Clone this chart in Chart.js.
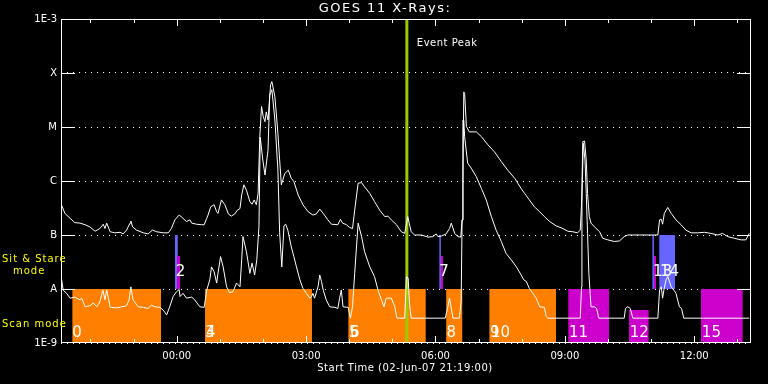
<!DOCTYPE html>
<html>
<head>
<meta charset="utf-8">
<script src="https://cdn.jsdelivr.net/npm/chart.js@4.4.0/dist/chart.umd.min.js"></script>
<style>
  body { margin: 0; background: #000; }
  #wrap { width: 768px; height: 384px; }
</style>
</head>
<body>
<div id="wrap"><canvas id="goes" width="768" height="384"></canvas></div>
<script>
// time axis: hours since 02-Jun-07 21:19:00, flux given as log10(W/m^2)
const longTime = [0.01,0.09,0.21,0.32,0.44,0.56,0.67,0.79,0.90,0.98,
  1.02,1.06,1.14,1.25,1.37,1.44,1.52,1.60,1.62,1.66,
  1.75,1.91,2.02,2.12,2.22,2.37,2.49,2.56,2.64,2.74,
  2.80,2.91,2.99,3.03,3.14,3.26,3.32,3.38,3.41,3.47,
  3.55,3.61,3.64,3.72,3.80,3.88,3.95,4.03,4.09,4.15,
  4.19,4.24,4.30,4.38,4.43,4.48,4.53,4.57,4.61,4.65,
  4.69,4.73,4.76,4.80,4.86,4.89,4.96,5.03,5.07,5.11,
  5.19,5.27,5.34,5.40,5.50,5.61,5.73,5.84,5.92,6.00,
  6.08,6.19,6.27,6.42,6.48,6.53,6.62,6.69,6.76,6.81,
  6.89,6.97,7.04,7.16,7.27,7.39,7.51,7.58,7.66,7.78,
  7.89,7.97,8.04,8.12,8.20,8.36,8.51,8.62,8.70,8.74,
  8.82,8.93,9.01,9.05,9.13,9.20,9.27,9.30,9.32,9.34,
  9.36,9.40,9.47,9.63,9.75,9.90,10.05,10.21,10.36,10.52,
  10.67,10.75,10.86,10.98,11.10,11.21,11.33,11.48,11.64,11.75,
  11.87,11.98,12.04,12.07,12.10,12.14,12.18,12.21,12.25,12.29,
  12.37,12.49,12.56,12.68,12.83,12.95,13.06,13.14,13.41,13.84,
  13.88,13.92,13.95,13.99,14.07,14.15,14.26,14.38,14.49,14.61,
  14.76,14.92,15.07,15.23,15.34,15.46,15.61,15.77,15.88,15.96];
const longFlux = [-6.44,-6.60,-6.69,-6.77,-6.78,-6.81,-6.85,-6.93,-6.88,-6.80,
  -6.88,-6.78,-6.94,-6.96,-6.95,-6.98,-6.91,-6.78,-6.74,-6.85,
  -6.91,-6.96,-6.98,-6.91,-6.94,-6.96,-6.96,-6.88,-6.72,-6.63,
  -6.67,-6.75,-6.72,-6.78,-6.80,-6.81,-6.81,-6.69,-6.63,-6.48,
  -6.44,-6.57,-6.60,-6.35,-6.44,-6.61,-6.65,-6.61,-6.54,-6.51,
  -6.26,-6.07,-6.17,-6.38,-6.43,-6.35,-6.44,-6.23,-5.18,-4.62,
  -4.81,-4.90,-4.72,-4.87,-4.22,-4.16,-4.44,-5.12,-5.61,-6.07,
  -5.86,-5.80,-5.95,-6.01,-6.26,-6.44,-6.57,-6.63,-6.61,-6.52,
  -6.60,-6.72,-6.80,-6.81,-6.71,-6.78,-6.81,-6.86,-6.88,-6.54,
  -6.04,-6.03,-6.11,-6.23,-6.38,-6.54,-6.66,-6.65,-6.72,-6.81,
  -6.94,-6.97,-6.66,-6.94,-7.00,-7.00,-7.04,-7.03,-6.98,-7.03,
  -7.02,-6.98,-6.88,-6.78,-6.97,-7.03,-7.04,-6.72,-5.98,-4.35,
  -4.38,-4.99,-5.09,-5.09,-5.18,-5.33,-5.46,-5.64,-5.80,-5.95,
  -6.14,-6.23,-6.35,-6.48,-6.57,-6.66,-6.75,-6.83,-6.88,-6.93,
  -6.94,-6.96,-6.91,-6.44,-5.27,-5.26,-5.61,-6.23,-6.66,-6.78,
  -6.85,-6.94,-7.06,-7.09,-7.12,-7.11,-7.03,-7.00,-7.00,-7.00,
  -6.72,-6.71,-6.80,-6.60,-6.49,-6.60,-6.72,-6.81,-6.91,-6.96,
  -6.96,-6.95,-6.97,-7.00,-6.97,-7.03,-7.06,-7.09,-7.09,-6.97];

const shortTime = [0.01,0.05,0.13,0.21,0.32,0.44,0.48,0.56,0.67,0.75,
  0.83,0.90,0.97,1.02,1.06,1.14,1.29,1.41,1.52,1.58,
  1.62,1.67,1.79,1.91,2.02,2.10,2.18,2.29,2.37,2.45,
  2.52,2.60,2.68,2.74,2.76,2.83,2.91,3.03,3.10,3.22,
  3.32,3.38,3.45,3.49,3.55,3.61,3.64,3.70,3.76,3.84,
  3.91,3.99,4.07,4.15,4.19,4.22,4.30,4.38,4.43,4.49,
  4.54,4.59,4.62,4.68,4.73,4.80,4.84,4.89,4.96,5.03,
  5.07,5.12,5.17,5.21,5.26,5.34,5.40,5.46,5.54,5.61,
  5.69,5.77,5.81,5.84,5.88,5.96,6.00,6.04,6.08,6.15,
  6.23,6.35,6.42,6.46,6.50,6.54,6.66,6.71,6.76,6.81,
  6.89,6.97,7.04,7.16,7.27,7.35,7.43,7.49,7.54,7.66,
  7.74,7.79,7.97,8.01,8.05,8.08,8.12,8.91,8.97,9.01,
  9.05,9.09,9.24,9.28,9.30,9.32,9.34,9.36,9.43,9.51,
  9.63,9.75,9.86,9.98,10.09,10.21,10.32,10.44,10.56,10.67,
  10.73,10.79,10.86,10.94,11.02,11.10,11.21,11.25,11.29,12.04,
  12.07,12.08,12.11,12.15,12.18,12.21,12.24,12.27,12.29,12.37,
  12.42,12.47,13.06,13.09,13.14,13.20,13.26,13.84,13.88,13.92,
  13.95,13.98,14.03,14.07,14.15,14.21,14.26,14.34,14.39,14.44,
  15.96];
const shortFlux = [-7.80,-8.02,-8.08,-8.17,-8.15,-8.20,-8.17,-8.33,-8.31,-8.26,
  -8.33,-8.24,-8.02,-8.20,-8.02,-8.34,-8.35,-8.33,-8.31,-8.20,
  -7.96,-8.20,-8.33,-8.34,-8.36,-8.30,-8.33,-8.34,-8.39,-8.48,
  -8.33,-8.14,-8.05,-8.01,-8.14,-8.08,-8.17,-8.15,-8.20,-8.33,
  -8.34,-8.02,-7.83,-7.59,-7.68,-7.89,-7.71,-7.40,-7.59,-7.96,
  -8.07,-8.05,-7.89,-7.96,-7.46,-7.03,-7.31,-7.71,-7.52,-7.74,
  -7.46,-6.85,-5.19,-5.61,-5.89,-5.43,-4.41,-4.31,-4.87,-5.80,
  -6.96,-7.59,-6.83,-6.80,-6.91,-7.22,-7.40,-7.59,-7.83,-7.99,
  -8.08,-8.17,-8.14,-8.08,-8.17,-7.96,-7.74,-7.86,-8.02,-8.20,
  -8.33,-8.34,-8.36,-8.17,-8.02,-8.33,-8.34,-8.54,-8.33,-7.71,
  -6.78,-7.03,-7.31,-7.59,-7.77,-8.02,-8.20,-8.33,-8.17,-8.17,
  -8.33,-8.54,-8.54,-7.77,-7.80,-8.26,-8.54,-8.54,-8.33,-8.17,
  -8.36,-8.54,-8.54,-8.20,-6.72,-4.87,-4.87,-5.18,-5.67,-5.76,
  -5.92,-6.14,-6.35,-6.66,-6.91,-7.12,-7.34,-7.46,-7.59,-7.74,
  -7.83,-7.86,-7.99,-8.08,-8.17,-8.33,-8.34,-8.51,-8.54,-8.54,
  -7.96,-6.41,-5.30,-5.61,-6.23,-6.97,-7.71,-8.08,-8.33,-8.33,
  -8.36,-8.54,-8.54,-8.36,-8.33,-8.36,-8.54,-8.54,-8.02,-7.96,
  -8.17,-8.02,-7.83,-7.77,-7.96,-8.02,-8.08,-8.33,-8.36,-8.54,
  -8.54];

// observing blocks (hours)
const scanOrangeStart = [0.26, 3.34, 6.66, 8.93, 9.93];
const scanOrangeEnd   = [2.32, 5.82, 8.46, 9.31, 11.48];
const scanMagentaStart = [11.76, 13.17, 14.84];
const scanMagentaEnd   = [12.71, 13.63, 15.81];
const scanMagentaTop   = [-8, -8.39, -8];
const stareBlueStart = [2.64, 8.77, 13.71, 13.87];
const stareBlueEnd   = [2.71, 8.81, 13.75, 14.24];
const stareMagentaStart = [2.69, 8.81, 13.75];
const stareMagentaEnd   = [2.76, 8.86, 13.80];
const stareMagentaTop = -7.39;

const blockLabels = ['0','2','3','4','5','6','7','8','9','10','11','12','13','14','15'];
const blockLabelHour = [0.26,2.66,3.34,3.36,6.68,6.70,8.77,8.94,9.95,9.97,11.78,13.19,13.73,13.89,14.86];
const blockLabelStare = [false,true,false,false,false,false,true,false,false,false,false,false,true,true,false];

const eventPeakHour = 8.02;

const yTickExp = [-9, -8, -7, -6, -5, -4, -3];
const yTickLabels = ['1E-9', 'A', 'B', 'C', 'M', 'X', '1E-3'];
const xLabelHours = [2.683, 5.683, 8.683, 11.683, 14.683];
const xTickLabels = ['00:00', '03:00', '06:00', '09:00', '12:00'];
const hourTicks = [0.683,1.683,2.683,3.683,4.683,5.683,6.683,7.683,8.683,9.683,10.683,11.683,12.683,13.683,14.683,15.683];

const ORANGE = '#ff8000';
const MAGENTA = '#cc00cc';
const BLUE = '#6666ff';
const FONT = '"DejaVu Sans", sans-serif';

function curve(times, flux) {
    return times.map((t, i) => ({ x: t, y: Math.pow(10, flux[i]) }));
}

function block(x0, x1, top, bottom, color) {
    return {
        data: [{ x: x0, y: Math.pow(10, top) }, { x: x1, y: Math.pow(10, top) }],
        fill: { value: Math.pow(10, bottom) },
        backgroundColor: color,
        borderColor: 'rgba(0,0,0,0)',
        borderWidth: 1,
        pointRadius: 0,
        order: 5
    };
}

const datasets = [];
datasets.push({ data: curve(longTime, longFlux), borderColor: '#fff', borderWidth: 1, pointRadius: 0, tension: 0, fill: false, order: 1 });
datasets.push({ data: curve(shortTime, shortFlux), borderColor: '#fff', borderWidth: 1, pointRadius: 0, tension: 0, fill: false, order: 1 });
datasets.push({ data: [{ x: eventPeakHour, y: 1e-9 }, { x: eventPeakHour, y: 1e-3 }], borderColor: '#99cc00', borderWidth: 3, pointRadius: 0, fill: false, order: 2 });

scanOrangeStart.forEach((s, i) => datasets.push(block(s, scanOrangeEnd[i], -8, -9, ORANGE)));
scanMagentaStart.forEach((s, i) => datasets.push(block(s, scanMagentaEnd[i], scanMagentaTop[i], -9, MAGENTA)));
stareBlueStart.forEach((s, i) => datasets.push(block(s, stareBlueEnd[i], -7, -8, BLUE)));
stareMagentaStart.forEach((s, i) => {
    const d = block(s, stareMagentaEnd[i], stareMagentaTop, -8, MAGENTA);
    d.order = 4;
    datasets.push(d);
});

// frame, inward ticks and all the texts
const goesDecor = {
    id: 'goesDecor',
    afterDraw(chart) {
        const { ctx, chartArea: a, scales: { x, y } } = chart;
        ctx.save();
        ctx.strokeStyle = '#fff';
        ctx.lineWidth = 1;
        ctx.strokeRect(a.left + 0.5, a.top + 0.5, a.right - a.left - 1, a.bottom - a.top - 1);

        ctx.beginPath();
        yTickExp.slice(1, -1).forEach(e => {
            const py = Math.round(y.getPixelForValue(Math.pow(10, e))) + 0.5;
            ctx.moveTo(a.left, py); ctx.lineTo(a.left + 14, py);
            ctx.moveTo(a.right - 14, py); ctx.lineTo(a.right, py);
        });
        hourTicks.forEach(h => {
            const px = Math.round(x.getPixelForValue(h)) + 0.5;
            const len = xLabelHours.some(m => Math.abs(m - h) < 0.01) ? 7 : 4;
            ctx.moveTo(px, a.bottom); ctx.lineTo(px, a.bottom - len);
            ctx.moveTo(px, a.top); ctx.lineTo(px, a.top + len);
        });
        ctx.stroke();

        ctx.fillStyle = '#fff';
        ctx.textBaseline = 'middle';
        ctx.font = '13px ' + FONT;
        ctx.letterSpacing = '1.5px';
        ctx.textAlign = 'center';
        ctx.fillText('GOES 11 X-Rays:', 385, 9);
        ctx.font = '10px ' + FONT;
        ctx.letterSpacing = '0.5px';
        ctx.fillText('Start Time (02-Jun-07 21:19:00)', 405, 368);
        ctx.textAlign = 'left';
        ctx.fillText('Event Peak', x.getPixelForValue(eventPeakHour) + 10, 43);

        ctx.fillStyle = '#ffff00';
        ctx.letterSpacing = '1px';
        ctx.fillText('Sit & Stare', 2, 259);
        ctx.fillText('mode', 13, 271);
        ctx.fillText('Scan mode', 2, 324);

        ctx.fillStyle = '#fff';
        ctx.letterSpacing = '0px';
        ctx.font = '15px ' + FONT;
        blockLabels.forEach((t, i) => {
            const py = y.getPixelForValue(Math.pow(10, blockLabelStare[i] ? -7.69 : -8.81));
            ctx.fillText(t, x.getPixelForValue(blockLabelHour[i]), py);
        });
        ctx.restore();
    }
};

new Chart(document.getElementById('goes'), {
    type: 'line',
    data: { datasets },
    options: {
        responsive: false,
        animation: false,
        layout: { padding: { top: 19, right: 17, left: 0, bottom: 0 } },
        plugins: { legend: { display: false }, tooltip: { enabled: false } },
        scales: {
            x: {
                type: 'linear',
                min: 0,
                max: 16,
                afterFit: s => { s.height = 41; },
                afterBuildTicks: s => { s.ticks = xLabelHours.map(v => ({ value: v })); },
                grid: { display: false, drawTicks: false },
                border: { display: false },
                ticks: {
                    color: '#fff',
                    font: { family: 'DejaVu Sans', size: 10 },
                    padding: 7,
                    autoSkip: false,
                    maxRotation: 0,
                    callback: (v, i) => xTickLabels[i]
                }
            },
            y: {
                type: 'logarithmic',
                min: 1e-9,
                max: 1e-3,
                afterFit: s => { s.width = 61; },
                afterBuildTicks: s => { s.ticks = yTickExp.map(e => ({ value: Math.pow(10, e) })); },
                grid: { color: '#fff', lineWidth: 1, drawTicks: false },
                border: { display: false, dash: [1, 5] },
                ticks: {
                    color: '#fff',
                    font: { family: 'DejaVu Sans', size: 10 },
                    padding: 4,
                    autoSkip: false,
                    callback: (v, i) => yTickLabels[i]
                }
            }
        }
    },
    plugins: [goesDecor]
});
</script>
</body>
</html>
